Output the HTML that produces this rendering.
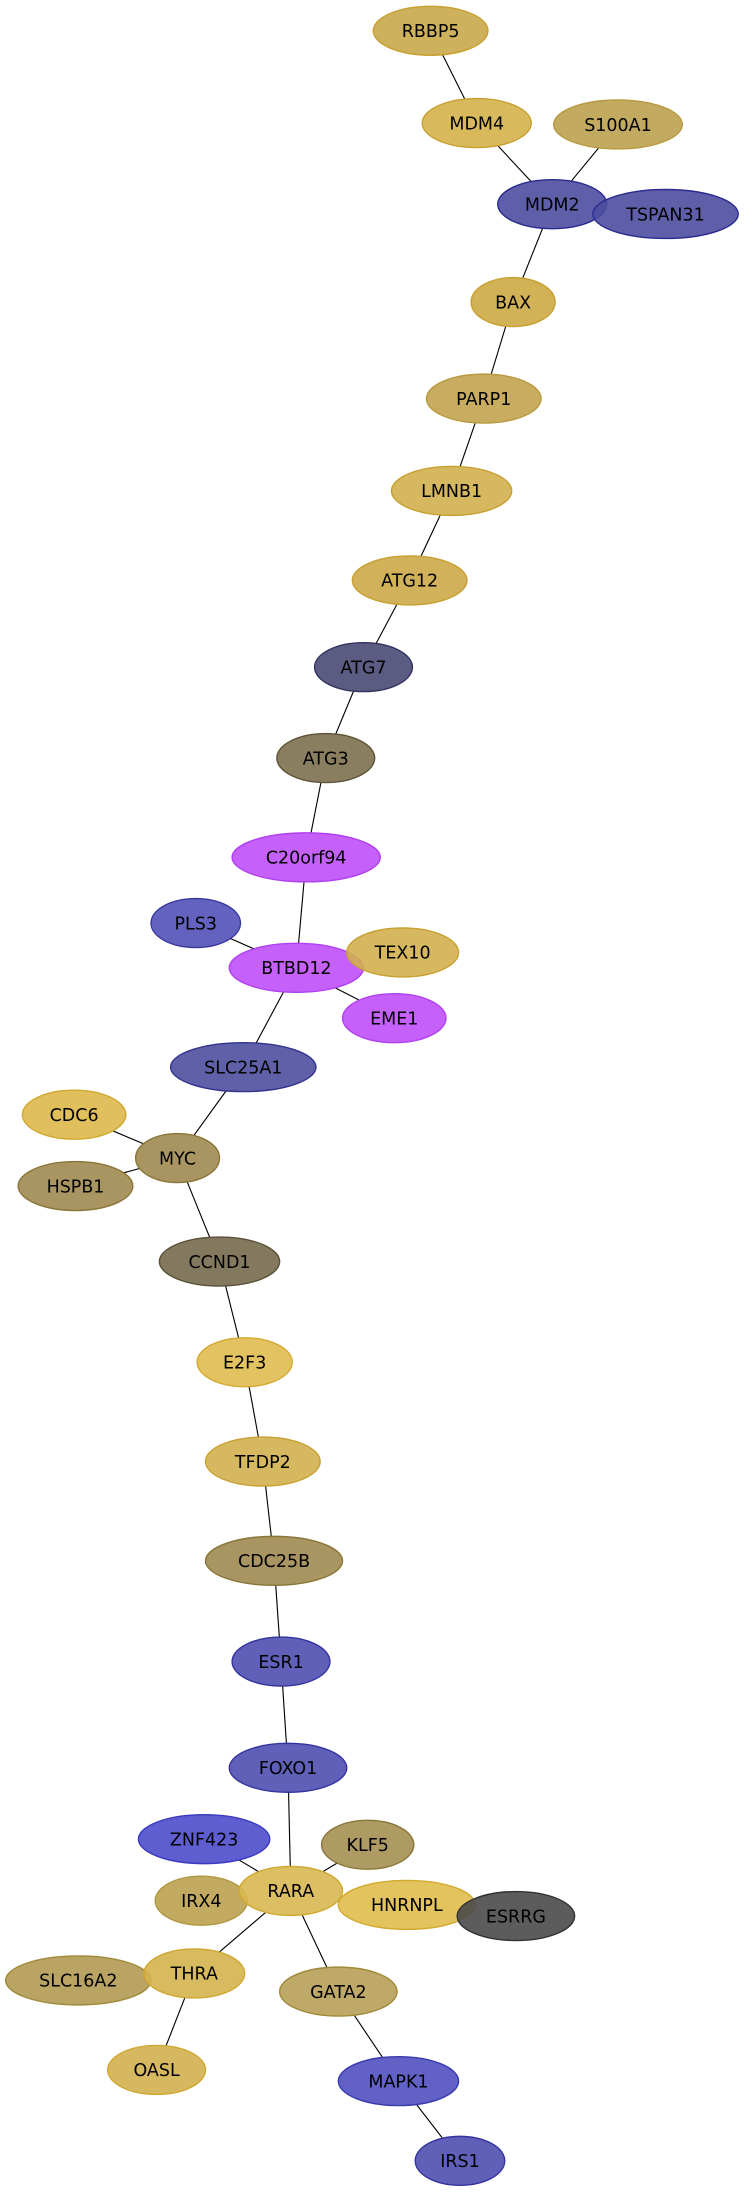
<!DOCTYPE html>
<html><head><meta charset="utf-8"><style>html,body{margin:0;padding:0;background:#fff}svg{display:block}</style></head>
<body>
<svg width="748" height="2200" viewBox="0 0 535 1573" preserveAspectRatio="none" xmlns="http://www.w3.org/2000/svg">
<g stroke="#000" stroke-width="0.8">
<line x1="308" y1="22" x2="341" y2="88"/><line x1="341" y1="88" x2="395" y2="146"/><line x1="442" y1="89" x2="395" y2="146"/>
<line x1="395" y1="146" x2="367" y2="216"/><line x1="367" y1="216" x2="346" y2="285"/><line x1="346" y1="285" x2="323" y2="351"/>
<line x1="323" y1="351" x2="293" y2="415"/><line x1="293" y1="415" x2="260" y2="477"/><line x1="260" y1="477" x2="233" y2="542"/>
<line x1="233" y1="542" x2="219" y2="613"/><line x1="219" y1="613" x2="212" y2="692"/><line x1="140" y1="660" x2="212" y2="692"/>
<line x1="212" y1="692" x2="282" y2="728"/><line x1="212" y1="692" x2="174" y2="763"/><line x1="174" y1="763" x2="127" y2="828"/>
<line x1="53" y1="797" x2="127" y2="828"/><line x1="54" y1="848" x2="127" y2="828"/><line x1="127" y1="828" x2="157" y2="902"/>
<line x1="157" y1="902" x2="175" y2="974"/><line x1="175" y1="974" x2="188" y2="1045"/><line x1="188" y1="1045" x2="196" y2="1116"/>
<line x1="196" y1="1116" x2="201" y2="1188"/><line x1="201" y1="1188" x2="206" y2="1264"/><line x1="206" y1="1264" x2="208" y2="1352"/>
<line x1="146" y1="1315" x2="208" y2="1352"/><line x1="263" y1="1319" x2="208" y2="1352"/><line x1="208" y1="1352" x2="139" y2="1411"/>
<line x1="208" y1="1352" x2="242" y2="1424"/><line x1="139" y1="1411" x2="112" y2="1480"/><line x1="242" y1="1424" x2="285" y2="1488"/>
<line x1="285" y1="1488" x2="329" y2="1545"/>
</g>
<g fill="#fff" stroke="none">
<ellipse cx="308" cy="22" rx="41" ry="17.5"/><ellipse cx="341" cy="88" rx="39" ry="17.5"/><ellipse cx="442" cy="89" rx="46" ry="17.5"/>
<ellipse cx="395" cy="146" rx="39" ry="17.5"/><ellipse cx="476" cy="153" rx="52" ry="17.5"/><ellipse cx="367" cy="216" rx="30" ry="17.5"/>
<ellipse cx="346" cy="285" rx="41" ry="17.5"/><ellipse cx="323" cy="351" rx="43" ry="17.5"/><ellipse cx="293" cy="415" rx="41" ry="17.5"/>
<ellipse cx="260" cy="477" rx="35" ry="17.5"/><ellipse cx="233" cy="542" rx="35" ry="17.5"/><ellipse cx="219" cy="613" rx="53" ry="17.5"/>
<ellipse cx="212" cy="692" rx="48" ry="17.5"/><ellipse cx="282" cy="728" rx="37" ry="17.5"/><ellipse cx="140" cy="660" rx="32" ry="17.5"/>
<ellipse cx="288" cy="681" rx="40" ry="17.5"/><ellipse cx="174" cy="763" rx="52" ry="17.5"/><ellipse cx="53" cy="797" rx="37" ry="17.5"/>
<ellipse cx="127" cy="828" rx="30" ry="17.5"/><ellipse cx="54" cy="848" rx="41" ry="17.5"/><ellipse cx="157" cy="902" rx="43" ry="17.5"/>
<ellipse cx="175" cy="974" rx="34" ry="17.5"/><ellipse cx="188" cy="1045" rx="41" ry="17.5"/><ellipse cx="196" cy="1116" rx="49" ry="17.5"/>
<ellipse cx="201" cy="1188" rx="35" ry="17.5"/><ellipse cx="206" cy="1264" rx="42" ry="17.5"/><ellipse cx="146" cy="1315" rx="47" ry="17.5"/>
<ellipse cx="263" cy="1319" rx="33" ry="17.5"/><ellipse cx="144" cy="1359" rx="33" ry="17.5"/><ellipse cx="208" cy="1352" rx="37" ry="17.5"/>
<ellipse cx="291" cy="1362" rx="49" ry="17.5"/><ellipse cx="369" cy="1370" rx="42" ry="17.5"/><ellipse cx="56" cy="1416" rx="52" ry="17.5"/>
<ellipse cx="139" cy="1411" rx="36" ry="17.5"/><ellipse cx="242" cy="1424" rx="42" ry="17.5"/><ellipse cx="112" cy="1480" rx="35" ry="17.5"/>
<ellipse cx="285" cy="1488" rx="43" ry="17.5"/><ellipse cx="329" cy="1545" rx="32" ry="17.5"/>
</g>
<g stroke-width="1" fill-opacity="0.9" font-family="DejaVu Sans, Liberation Sans, sans-serif" font-size="12.5" text-anchor="middle">
<g fill="#c8a84a" stroke="#c8a030"><ellipse cx="308" cy="22" rx="41" ry="17.5"/></g>
<g fill="#d4b24a" stroke="#c8a030"><ellipse cx="341" cy="88" rx="39" ry="17.5"/></g>
<g fill="#bda150" stroke="#b89a40"><ellipse cx="442" cy="89" rx="46" ry="17.5"/></g>
<g fill="#4c4ca0" stroke="#2a2a90"><ellipse cx="395" cy="146" rx="39" ry="17.5"/><ellipse cx="476" cy="153" rx="52" ry="17.5"/></g>
<g fill="#cdaa45" stroke="#c8a030"><ellipse cx="367" cy="216" rx="30" ry="17.5"/></g>
<g fill="#c2a450" stroke="#b89a40"><ellipse cx="346" cy="285" rx="41" ry="17.5"/></g>
<g fill="#d2b050" stroke="#c8a030"><ellipse cx="323" cy="351" rx="43" ry="17.5"/></g>
<g fill="#cca847" stroke="#c8a030"><ellipse cx="293" cy="415" rx="41" ry="17.5"/></g>
<g fill="#4a4a76" stroke="#333360"><ellipse cx="260" cy="477" rx="35" ry="17.5"/></g>
<g fill="#7d7050" stroke="#5e5438"><ellipse cx="233" cy="542" rx="35" ry="17.5"/></g>
<g fill="#bf50fa" stroke="#b040f0"><ellipse cx="219" cy="613" rx="53" ry="17.5"/><ellipse cx="212" cy="692" rx="48" ry="17.5"/><ellipse cx="282" cy="728" rx="37" ry="17.5"/></g>
<g fill="#5252b8" stroke="#3838a0"><ellipse cx="140" cy="660" rx="32" ry="17.5"/></g>
<g fill="#d2b050" stroke="#c8a030"><ellipse cx="288" cy="681" rx="40" ry="17.5"/></g>
<g fill="#4f4fa0" stroke="#333390"><ellipse cx="174" cy="763" rx="52" ry="17.5"/></g>
<g fill="#ddb84a" stroke="#d0a830"><ellipse cx="53" cy="797" rx="37" ry="17.5"/></g>
<g fill="#9e8a50" stroke="#8a7638"><ellipse cx="127" cy="828" rx="30" ry="17.5"/><ellipse cx="54" cy="848" rx="41" ry="17.5"/></g>
<g fill="#756a4c" stroke="#5a5038"><ellipse cx="157" cy="902" rx="43" ry="17.5"/></g>
<g fill="#dfbb50" stroke="#d4aa30"><ellipse cx="175" cy="974" rx="34" ry="17.5"/></g>
<g fill="#d2b050" stroke="#c8a030"><ellipse cx="188" cy="1045" rx="41" ry="17.5"/></g>
<g fill="#9e8a50" stroke="#8a7638"><ellipse cx="196" cy="1116" rx="49" ry="17.5"/></g>
<g fill="#4f4fb0" stroke="#3333a0"><ellipse cx="201" cy="1188" rx="35" ry="17.5"/><ellipse cx="206" cy="1264" rx="42" ry="17.5"/></g>
<g fill="#4d4dcc" stroke="#3a3ac0"><ellipse cx="146" cy="1315" rx="47" ry="17.5"/></g>
<g fill="#a58f52" stroke="#8a7638"><ellipse cx="263" cy="1319" rx="33" ry="17.5"/></g>
<g fill="#bba250" stroke="#b09840"><ellipse cx="144" cy="1359" rx="33" ry="17.5"/></g>
<g fill="#d8b852" stroke="#d0a830"><ellipse cx="208" cy="1352" rx="37" ry="17.5"/></g>
<g fill="#dfbc4c" stroke="#d4aa30"><ellipse cx="291" cy="1362" rx="49" ry="17.5"/></g>
<g fill="#4a4a4a" stroke="#333"><ellipse cx="369" cy="1370" rx="42" ry="17.5"/></g>
<g fill="#b39a52" stroke="#a08a38"><ellipse cx="56" cy="1416" rx="52" ry="17.5"/></g>
<g fill="#d4b24e" stroke="#d0a830"><ellipse cx="139" cy="1411" rx="36" ry="17.5"/></g>
<g fill="#b8a058" stroke="#a08a38"><ellipse cx="242" cy="1424" rx="42" ry="17.5"/></g>
<g fill="#d2b050" stroke="#d0a830"><ellipse cx="112" cy="1480" rx="35" ry="17.5"/></g>
<g fill="#5050c0" stroke="#3a3ab0"><ellipse cx="285" cy="1488" rx="43" ry="17.5"/></g>
<g fill="#4f4fb0" stroke="#3333a0"><ellipse cx="329" cy="1545" rx="32" ry="17.5"/></g>
<g fill="#000" fill-opacity="1" stroke="none">
<text x="308" y="26.5">RBBP5</text><text x="341" y="92.5">MDM4</text><text x="442" y="93.5">S100A1</text>
<text x="395" y="150.5">MDM2</text><text x="476" y="157.5">TSPAN31</text><text x="367" y="220.5">BAX</text>
<text x="346" y="289.5">PARP1</text><text x="323" y="355.5">LMNB1</text><text x="293" y="419.5">ATG12</text>
<text x="260" y="481.5">ATG7</text><text x="233" y="546.5">ATG3</text><text x="219" y="617.5">C20orf94</text>
<text x="140" y="664.5">PLS3</text><text x="212" y="696.5">BTBD12</text><text x="288" y="685.5">TEX10</text>
<text x="282" y="732.5">EME1</text><text x="174" y="767.5">SLC25A1</text><text x="53" y="801.5">CDC6</text>
<text x="127" y="832.5">MYC</text><text x="54" y="852.5">HSPB1</text><text x="157" y="906.5">CCND1</text>
<text x="175" y="978.5">E2F3</text><text x="188" y="1049.5">TFDP2</text><text x="196" y="1120.5">CDC25B</text>
<text x="201" y="1192.5">ESR1</text><text x="206" y="1268.5">FOXO1</text><text x="146" y="1319.5">ZNF423</text>
<text x="263" y="1323.5">KLF5</text><text x="144" y="1363.5">IRX4</text><text x="208" y="1356.5">RARA</text>
<text x="291" y="1366.5">HNRNPL</text><text x="369" y="1374.5">ESRRG</text><text x="56" y="1420.5">SLC16A2</text>
<text x="139" y="1415.5">THRA</text><text x="242" y="1428.5">GATA2</text><text x="112" y="1484.5">OASL</text>
<text x="285" y="1492.5">MAPK1</text><text x="329" y="1549.5">IRS1</text>
</g>
</g>
</svg>
</body></html>
